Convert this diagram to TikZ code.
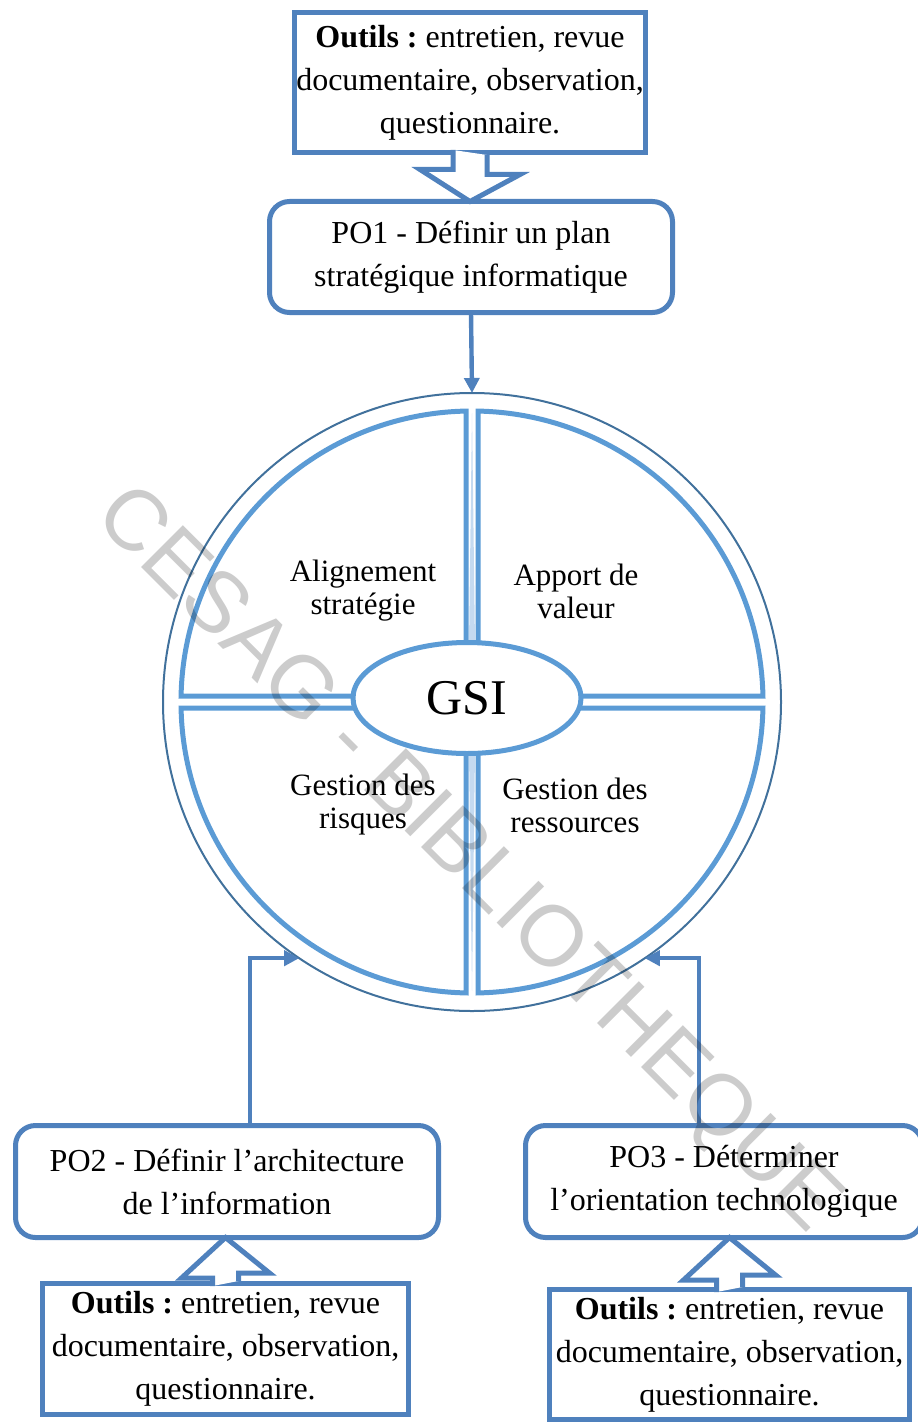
\documentclass[tikz,border=0pt]{standalone}
\usepackage{fontspec}
\setmainfont{Liberation Serif}
\newfontfamily\wmfont{Liberation Sans}
\usetikzlibrary{shapes.geometric,arrows.meta}
\definecolor{boxblue}{HTML}{4F81BD}
\definecolor{quadblue}{HTML}{5B9BD5}
\definecolor{ringblue}{HTML}{41719C}
\definecolor{gapblue}{HTML}{C5DAF0}
\begin{document}
\begin{tikzpicture}[x=0.5pt, y=-0.5pt,
   outils/.style={draw=boxblue, line width=2.5pt, fill=white, outer sep=0pt,
     align=center, inner sep=0pt, font=\fontsize{16}{21.5}\selectfont\frenchspacing},
   po/.style={outils, rounded corners=10pt},
   blockarr/.style={draw=boxblue, fill=white, line width=2.5pt},
   conn/.style={draw=boxblue, line width=2.2pt, -{Triangle[length=7.5pt,width=7.5pt]}},
   quad/.style={draw=quadblue, line width=2.5pt},
   lbl/.style={align=center, font=\fontsize{15.5}{16.5}\selectfont}]
  \useasboundingbox (0,0) rectangle (917,1423);

  % wheel
  \node[circle, draw=ringblue, line width=1pt, outer sep=0pt, minimum size=309pt] (ring) at (472,702) {};
  \foreach \cx/\cy/\sx/\sy/\a/\b in {466/696/181.06/696/181.18/268.82,
      478/696/762.94/696/-1.18/-88.82, 466/708/181.06/708/178.82/91.18,
      478/708/762.94/708/1.18/88.82}
    \draw[quad] (\cx,\cy) -- (\sx,\sy) arc[start angle=\a, end angle=\b, radius=291] -- cycle;
  \fill[gapblue] (469,644) -- (475,644) -- (472,413) -- cycle;
  \fill[gapblue] (469,752) -- (475,752) -- (472,991) -- cycle;
  \node[ellipse, draw=quadblue, fill=white, line width=2.5pt, minimum width=114pt, minimum height=55.5pt,
    font=\fontsize{25}{25}\selectfont] (gsi) at (467,698) {GSI};
  \node[lbl] (align) at (363,591) {Alignement\\stratégie};
  \node[lbl] (valeur) at (576,591) {Apport de\\valeur};
  \node[lbl] (risques) at (363,805) {Gestion des\\risques};
  \node[lbl] (ressources) at (575,805) {Gestion des\\ressources};

  % boxes
  \node[outils, minimum width=175.5pt, minimum height=70pt] (out1) at (470,82.5)
    {\textbf{Outils :} entretien, revue\\documentaire, observation,\\questionnaire.};
  \node[po, minimum width=201.5pt, minimum height=55.5pt] (po1) at (471,257)
    {PO1 - Définir un plan\\stratégique informatique};
  \node[po, minimum width=211.5pt, minimum height=56pt] (po2) at (227,1181.5)
    {PO2 - Définir l’architecture\\de l’information};
  \node[po, minimum width=198.5pt, minimum height=56pt] (po3) at (724,1181.5)
    {PO3 - Déterminer\\l’orientation technologique};
  \node[outils, minimum width=183pt, minimum height=65.5pt] (out2) at (225.5,1349)
    {\textbf{Outils :} entretien, revue\\documentaire, observation,\\questionnaire.};
  \node[outils, minimum width=180pt, minimum height=65pt] (out3) at (729.5,1354.5)
    {\textbf{Outils :} entretien, revue\\documentaire, observation,\\questionnaire.};

  % block arrows
  \path[blockarr] (out1.south) ++(-17,-2.5) -- ++(0,19.5) -- ++(-33,0)
    -- (po1.north -| out1.south) -- ++(50,-27) -- ++(-33,0) -- ++(0,-19.5);
  \path[blockarr] (out2.north) ++(-13,2.5) -- ++(0,-8) -- ++(-31,0)
    -- (po2.south -| out2.north) -- ++(44,35.5) -- ++(-31,0) -- ++(0,8);
  \path[blockarr] (out3.north) ++(-13,2.5) -- ++(0,-12) -- ++(-33,0)
    -- (po3.south -| out3.north) -- ++(46,37.5) -- ++(-33,0) -- ++(0,12);

  % links
  \draw[conn] (po1.south) -- (ring.north);
  \draw[conn] ([xshift=11.5pt]po2.north) |- (ring.236);
  \draw[conn] ([xshift=-12.5pt]po3.north) |- (ring.304);

  \node[rotate=-45, text=black, text opacity=0.2, font=\wmfont\fontsize{43}{43}\selectfont] (wm) at (466,861)
    {CESAG - BIBLIOTHEQUE};
\end{tikzpicture}
\end{document}
